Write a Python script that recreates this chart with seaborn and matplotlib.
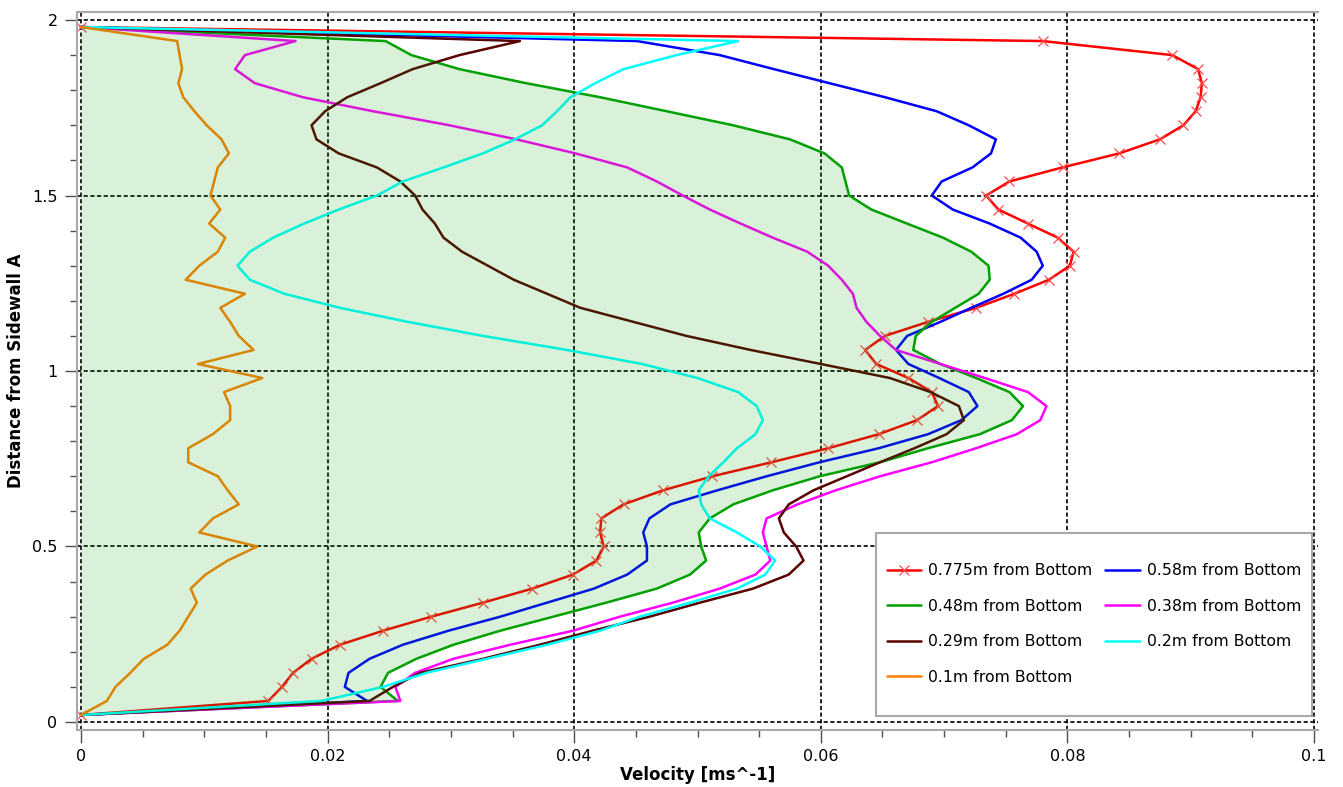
import matplotlib
matplotlib.use("Agg")
import matplotlib.pyplot as plt
from matplotlib.patches import Rectangle
from matplotlib.ticker import MultipleLocator, FormatStrFormatter
import pandas as pd
import seaborn as sns

# Sample positions across the channel (distance from sidewall A, m)
distance = [0.02, 0.06, 0.10, 0.14, 0.18, 0.22, 0.26, 0.30, 0.34, 0.38,
            0.42, 0.46, 0.50, 0.54, 0.58, 0.62, 0.66, 0.70, 0.74, 0.78,
            0.82, 0.86, 0.90, 0.94, 0.98, 1.02, 1.06, 1.10, 1.14, 1.18,
            1.22, 1.26, 1.30, 1.34, 1.38, 1.42, 1.46, 1.50, 1.54, 1.58,
            1.62, 1.66, 1.70, 1.74, 1.78, 1.82, 1.86, 1.90, 1.94, 1.98]

# Velocity profiles (m/s) at each height above the bottom
vel_0775 = [0.0, 0.0152, 0.0163, 0.0172, 0.0187, 0.0210, 0.0245, 0.0284, 0.0326, 0.0366,
            0.0399, 0.0418, 0.0424, 0.0421, 0.0422, 0.0440, 0.0472, 0.0512, 0.0560, 0.0606,
            0.0647, 0.0678, 0.0695, 0.0690, 0.0671, 0.0645, 0.0636, 0.0652, 0.0687, 0.0726,
            0.0757, 0.0785, 0.0802, 0.0805, 0.0792, 0.0768, 0.0744, 0.0734, 0.0753, 0.0796,
            0.0842, 0.0875, 0.0894, 0.0904, 0.0908, 0.0909, 0.0906, 0.0885, 0.0780, 0.0]
vel_058 = [0.0, 0.0232, 0.0214, 0.0217, 0.0234, 0.0261, 0.0298, 0.0340, 0.0378, 0.0416,
           0.0443, 0.0459, 0.0459, 0.0456, 0.0461, 0.0478, 0.0516, 0.0556, 0.0599, 0.0647,
           0.0687, 0.0714, 0.0727, 0.0720, 0.0696, 0.0671, 0.0661, 0.0670, 0.0697, 0.0722,
           0.0748, 0.0771, 0.0780, 0.0775, 0.0762, 0.0737, 0.0707, 0.0690, 0.0698, 0.0723,
           0.0738, 0.0742, 0.0720, 0.0694, 0.0652, 0.0607, 0.0562, 0.0518, 0.0451, 0.0]
vel_048 = [0.0, 0.0257, 0.0243, 0.0249, 0.0272, 0.0302, 0.0340, 0.0383, 0.0426, 0.0467,
           0.0494, 0.0507, 0.0503, 0.0501, 0.0510, 0.0529, 0.0561, 0.0599, 0.0648, 0.0687,
           0.0729, 0.0755, 0.0764, 0.0753, 0.0726, 0.0697, 0.0675, 0.0677, 0.0690, 0.0709,
           0.0728, 0.0737, 0.0736, 0.0722, 0.0699, 0.0670, 0.0641, 0.0623, 0.0620, 0.0617,
           0.0603, 0.0575, 0.0529, 0.0475, 0.0421, 0.0361, 0.0307, 0.0268, 0.0247, 0.0]
vel_038 = [0.0, 0.0259, 0.0255, 0.0271, 0.0302, 0.0348, 0.0399, 0.0437, 0.0480, 0.0518,
           0.0547, 0.0559, 0.0556, 0.0553, 0.0556, 0.0581, 0.0612, 0.0648, 0.0690, 0.0726,
           0.0759, 0.0778, 0.0783, 0.0768, 0.0733, 0.0697, 0.0661, 0.0648, 0.0637, 0.0629,
           0.0626, 0.0617, 0.0606, 0.0589, 0.0561, 0.0535, 0.0510, 0.0488, 0.0467, 0.0443,
           0.0401, 0.0353, 0.0299, 0.0237, 0.0180, 0.0141, 0.0125, 0.0133, 0.0174, 0.0]
vel_029 = [0.0, 0.0234, 0.0253, 0.0275, 0.0326, 0.0372, 0.0415, 0.0461, 0.0502, 0.0545,
           0.0574, 0.0586, 0.0580, 0.0570, 0.0566, 0.0574, 0.0594, 0.0621, 0.0648, 0.0676,
           0.0702, 0.0716, 0.0712, 0.0689, 0.0656, 0.0600, 0.0543, 0.0491, 0.0448, 0.0405,
           0.0378, 0.0351, 0.0330, 0.0309, 0.0294, 0.0287, 0.0277, 0.0271, 0.0259, 0.0240,
           0.0209, 0.0191, 0.0187, 0.0198, 0.0216, 0.0243, 0.0269, 0.0307, 0.0356, 0.0]
vel_020 = [0.0, 0.0195, 0.0245, 0.0280, 0.0329, 0.0378, 0.0421, 0.0453, 0.0494, 0.0532,
           0.0555, 0.0563, 0.0551, 0.0532, 0.0510, 0.0503, 0.0501, 0.0509, 0.0521, 0.0532,
           0.0547, 0.0553, 0.0548, 0.0533, 0.0500, 0.0455, 0.0394, 0.0326, 0.0265, 0.0210,
           0.0165, 0.0137, 0.0127, 0.0137, 0.0156, 0.0181, 0.0209, 0.0240, 0.0261, 0.0294,
           0.0326, 0.0352, 0.0374, 0.0386, 0.0397, 0.0417, 0.0440, 0.0483, 0.0533, 0.0]
vel_010 = [0.0, 0.0021, 0.0028, 0.0040, 0.0051, 0.0070, 0.0080, 0.0087, 0.0094, 0.0089,
           0.0101, 0.0119, 0.0143, 0.0096, 0.0107, 0.0128, 0.0119, 0.0111, 0.0087, 0.0087,
           0.0107, 0.0121, 0.0121, 0.0116, 0.0147, 0.0095, 0.0140, 0.0128, 0.0121, 0.0113,
           0.0133, 0.0085, 0.0096, 0.0111, 0.0117, 0.0104, 0.0113, 0.0105, 0.0108, 0.0111,
           0.0120, 0.0114, 0.0102, 0.0092, 0.0083, 0.0079, 0.0082, 0.0080, 0.0078, 0.0]

series_labels = ["0.775m from Bottom", "0.58m from Bottom", "0.48m from Bottom",
                 "0.38m from Bottom", "0.29m from Bottom", "0.2m from Bottom",
                 "0.1m from Bottom"]
series_values = [vel_0775, vel_058, vel_048, vel_038, vel_029, vel_020, vel_010]
series_colors = ["#ff0000", "#0000ff", "#00a000", "#ff00ff", "#5a0000", "#00ffff", "#ff8000"]

x_ticks = [0, 0.02, 0.04, 0.06, 0.08, 0.1]
y_ticks = [0, 0.5, 1, 1.5, 2]

frames = [pd.DataFrame({"Velocity": v, "Distance": distance, "Series": lab})
          for lab, v in zip(series_labels, series_values)]
df = pd.concat(frames, ignore_index=True)

sns.set_style("white")
plt.rcParams["font.family"] = ["DejaVu Sans"]
plt.rcParams["text.color"] = "black"
plt.rcParams["axes.labelcolor"] = "black"

fig = plt.figure(figsize=(13.43, 7.87), dpi=100)
ax = fig.add_axes([77 / 1343, 57 / 787, 1241 / 1343, 718 / 787])

for lab, col in zip(series_labels, series_colors):
    sub = df[df["Series"] == lab]
    extra = {}
    if lab == "0.775m from Bottom":
        extra = dict(marker="x", markersize=7, markeredgewidth=0.9,
                     markeredgecolor="#ff4a4a")
    sns.lineplot(data=sub, x="Velocity", y="Distance", orient="y", sort=False,
                 estimator=None, color=col, linewidth=1.8, ax=ax, label=lab,
                 **extra)

# translucent green band under the 0.48m profile
ax.fill_betweenx(distance, 0, vel_048, color="#00a000", alpha=0.15,
                 linewidth=0, zorder=3)

ax.set_xlim(-0.00032, 0.10032)
ax.set_ylim(-0.0228, 2.0228)
ax.set_xticks(x_ticks)
ax.set_yticks(y_ticks)
ax.xaxis.set_minor_locator(MultipleLocator(0.005))
ax.yaxis.set_minor_locator(MultipleLocator(0.1))
ax.xaxis.set_major_formatter(FormatStrFormatter("%g"))
ax.yaxis.set_major_formatter(FormatStrFormatter("%g"))

ax.grid(True, which="major", color="black", linestyle=(0, (2.5, 1.5)), linewidth=1.2)
ax.tick_params(which="both", direction="out", color="#505050", labelcolor="black",
               labelsize=11.5, bottom=True, left=True)
ax.tick_params(which="major", length=9, width=1, pad=5)
ax.tick_params(which="minor", length=5, width=1)

for side in ["left", "bottom", "top"]:
    ax.spines[side].set_color("#a8a8a8")
    ax.spines[side].set_linewidth(1.5)
ax.spines["right"].set_visible(False)

ax.set_xlabel("Velocity [ms^-1]", fontsize=12, fontweight="bold", labelpad=1)
ax.set_ylabel("Distance from Sidewall A", fontsize=12, fontweight="bold", labelpad=5)

# legend laid out row by row inside a white box
handles, labels = ax.get_legend_handles_labels()
order = [0, 2, 4, 6, 1, 3, 5]
box = Rectangle((799 / 1241, 14 / 718), 436 / 1241, 183 / 718, transform=ax.transAxes,
                facecolor="white", edgecolor="#a8a8a8", linewidth=1.5, zorder=6)
ax.add_patch(box)
leg = ax.legend([handles[i] for i in order], [labels[i] for i in order], ncol=2,
                loc="center", bbox_to_anchor=(1017 / 1241, 106 / 718),
                frameon=False, fontsize=11.3, handlelength=2.2, handletextpad=0.45,
                columnspacing=0.8, labelspacing=1.3, borderpad=0)
leg.set_zorder(7)

fig.savefig("out.png", dpi=100)
